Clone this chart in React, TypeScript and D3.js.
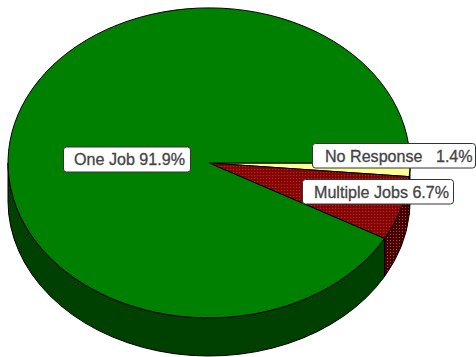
import React from "react";
import * as d3 from "d3";

const categories = ["No Response", "Multiple Jobs", "One Job"];
const shares = [1.4, 6.7, 91.9];
const labelTexts = ["No Response   1.4%", "Multiple Jobs 6.7%", "One Job 91.9%"];

const W = 476;
const H = 357;
const CX = 209;
const CY = 163;
const RX = 201;
const RY = 155;
const DEPTH = 38;

// Label boxes, in the same order as the categories.
const boxes = [
  { x: 312.5, y: 143.5, w: 163, h: 24.5, tx: 325 },
  { x: 302.5, y: 179.5, w: 151, h: 24.5, tx: 314 },
  { x: 63.5, y: 147, w: 127, h: 25, tx: 74 },
];

const topFill = ["#ffff99", "url(#dotsTop)", "#008000"];
const sideFill = ["#999950", "url(#dotsSide)", "#004000"];

const pieGen = d3
  .pie<number>()
  .sort(null)
  .startAngle(Math.PI / 2)
  .endAngle(Math.PI / 2 + 2 * Math.PI);
const slices = pieGen(shares);

// The top face is a unit-circle arc stretched into an ellipse.
const unitArc = d3.arc<d3.PieArcDatum<number>>().innerRadius(0).outerRadius(1);

const px = (a: number) => CX + RX * Math.sin(a);
const py = (a: number) => CY - RY * Math.cos(a);

// Outer wall of a slice, limited to the half of the rim that faces the viewer.
function wallPath(a0: number, a1: number): string | null {
  const s = Math.max(a0, Math.PI / 2);
  const e = Math.min(a1, (3 * Math.PI) / 2);
  if (e <= s) return null;
  return [
    `M${px(s)},${py(s)}`,
    `A${RX},${RY} 0 0 1 ${px(e)},${py(e)}`,
    `L${px(e)},${py(e) + DEPTH}`,
    `A${RX},${RY} 0 0 0 ${px(s)},${py(s) + DEPTH}`,
    "Z",
  ].join(" ");
}

export default function App() {
  return (
    <svg
      width={W}
      height={H}
      viewBox={`0 0 ${W} ${H}`}
      style={{ position: "absolute", left: 0, top: 0, background: "#fff" }}
    >
      <defs>
        {/* The top-face pattern lives in the stretched unit-circle space, so it is scaled back. */}
        <pattern
          id="dotsTop"
          width="3"
          height="3"
          patternUnits="userSpaceOnUse"
          patternTransform={`scale(${1 / RX},${1 / RY})`}
        >
          <rect width="3" height="3" fill="#8a0505" />
          <rect x="0" y="0" width="1" height="1" fill="#a83030" />
          <rect x="1.5" y="1.5" width="1" height="1" fill="#700000" />
        </pattern>
        <pattern id="dotsSide" width="3" height="3" patternUnits="userSpaceOnUse">
          <rect width="3" height="3" fill="#4a0000" />
          <rect x="0" y="0" width="1" height="1" fill="#a04848" />
          <rect x="1.5" y="1.5" width="1" height="1" fill="#300000" />
        </pattern>
      </defs>

      {slices.map((d, i) => {
        const path = wallPath(d.startAngle, d.endAngle);
        return path ? (
          <path
            key={categories[i] + "-wall"}
            d={path}
            fill={sideFill[i]}
            stroke="#000"
            strokeWidth={1}
            strokeLinejoin="round"
          />
        ) : null;
      })}

      <g transform={`translate(${CX},${CY}) scale(${RX},${RY})`}>
        {slices.map((d, i) => (
          <path
            key={categories[i]}
            d={unitArc(d) ?? ""}
            fill={topFill[i]}
            stroke="#000"
            strokeWidth={1}
            vectorEffect="non-scaling-stroke"
          />
        ))}
      </g>

      {boxes.map((b, i) => (
        <g key={labelTexts[i]}>
          <rect
            x={b.x}
            y={b.y}
            width={b.w}
            height={b.h}
            rx={3}
            ry={3}
            fill="#fff"
            stroke="#333"
            strokeWidth={1}
          />
          <text
            x={b.tx}
            y={b.y + 18}
            fontFamily="'Liberation Sans', Arial, sans-serif"
            fontSize={16.1}
            fill="#444"
            stroke="#444"
            strokeWidth={0.3}
            style={{ whiteSpace: "pre" }}
          >
            {labelTexts[i]}
          </text>
        </g>
      ))}
    </svg>
  );
}
